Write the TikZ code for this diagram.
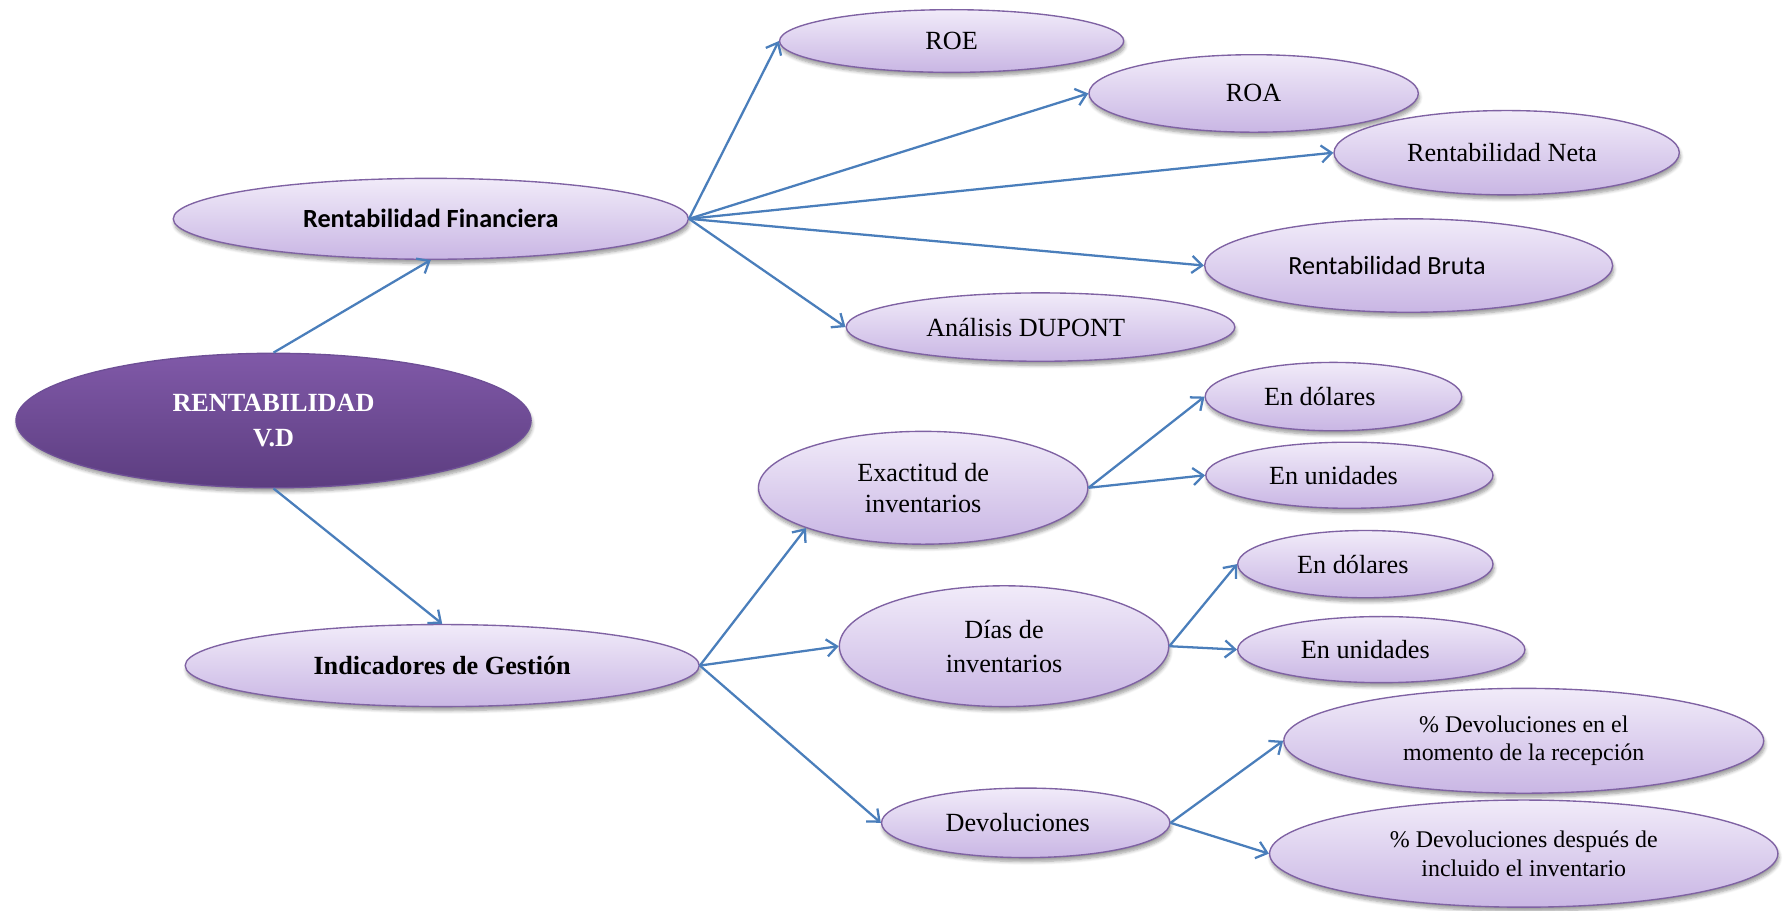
\documentclass[tikz,border=0pt]{standalone}
\usepackage{fontspec}
\setmainfont{Liberation Serif}
\newfontfamily\calibri{Carlito}
\usetikzlibrary{shapes.geometric,arrows.meta,shadows.blur}

\definecolor{lavtop}{HTML}{F1EBF9}
\definecolor{lavbot}{HTML}{C9B6E4}
\definecolor{lavedge}{HTML}{7F62A3}
\definecolor{roottop}{HTML}{8059A8}
\definecolor{rootbot}{HTML}{5C3D80}
\definecolor{rootedge}{HTML}{6E4F96}
\definecolor{linkblue}{HTML}{4A7EBB}

\newcommand\txtA{\fontsize{23}{27}\selectfont}
\newcommand\txtB{\fontsize{23}{30}\selectfont}
\newcommand\txtC{\fontsize{21}{25}\selectfont}

\tikzset{
  bub/.style={ellipse, draw=lavedge, line width=1.2pt,
    top color=lavtop, bottom color=lavbot, inner sep=0pt,
    align=center, font=\txtA, text=black,
    blur shadow={shadow xshift=1pt, shadow yshift=-3.5pt,
      shadow opacity=40, shadow blur steps=6, shadow blur radius=3pt}},
  rootbub/.style={bub, draw=rootedge, top color=roottop,
    bottom color=rootbot, text=white, font=\txtB\bfseries},
  link/.style={draw=linkblue, line width=2pt,
    -{Straight Barb[length=9pt,width=15pt]}}
}

\begin{document}
\begin{tikzpicture}[x=1pt,y=-1pt]
\useasboundingbox (0,0) rectangle (1568,799);

% root
\node[rootbub, minimum width=452pt, minimum height=118pt] (root) at (240,369)
  {RENTABILIDAD\\V.D};

% financial branch
\node[bub, minimum width=452pt, minimum height=71pt] (rf) at (378,192)
  {\calibri\bfseries Rentabilidad Financiera};
\node[bub, minimum width=302pt, minimum height=55pt] (roe) at (835,36) {ROE};
\node[bub, minimum width=289pt, minimum height=68pt] (roa) at (1100,82) {ROA};
\node[bub, minimum width=303pt, minimum height=74pt] (neta) at (1322,134)
  {Rentabilidad Neta\hspace*{8pt}};
\node[bub, minimum width=358pt, minimum height=82pt] (bruta) at (1236,233)
  {\calibri Rentabilidad Bruta\hspace*{38pt}};
\node[bub, minimum width=341pt, minimum height=60pt] (dupont) at (913,287)
  {Análisis DUPONT\hspace*{26pt}};

% management branch
\node[bub, minimum width=451pt, minimum height=72pt] (ig) at (388,584)
  {\bfseries Indicadores de Gestión};
\node[bub, minimum width=289pt, minimum height=99pt] (exact) at (810,428)
  {Exactitud de\\inventarios};
\node[bub, minimum width=225pt, minimum height=60pt] (dol1) at (1170,348)
  {En dólares\hspace*{24pt}};
\node[bub, minimum width=252pt, minimum height=58pt] (uni1) at (1184,417)
  {En unidades\hspace*{28pt}};
\node[bub, font=\txtB, minimum width=289pt, minimum height=106pt] (dias) at (881,567)
  {Días de\\inventarios};
\node[bub, minimum width=224pt, minimum height=59pt] (dol2) at (1198,495)
  {En dólares\hspace*{22pt}};
\node[bub, minimum width=252pt, minimum height=58pt] (uni2) at (1212,570)
  {En unidades\hspace*{28pt}};
\node[bub, minimum width=253pt, minimum height=61pt] (dev) at (900,722)
  {Devoluciones\hspace*{14pt}};
\node[bub, font=\txtC, minimum width=421pt, minimum height=92pt] (pct1) at (1337,650)
  {\% Devoluciones en el\\momento de la recepción};
\node[bub, font=\txtC, minimum width=446pt, minimum height=94pt] (pct2) at (1337,749)
  {\% Devoluciones después de\\incluido el inventario};

% connectors
\draw[link] (root.north) -- (rf.south);
\draw[link] (root.south) -- (ig.north);

\draw[link] (rf.east) -- (roe.west);
\draw[link] (rf.east) -- (roa.west);
\draw[link] (rf.east) -- (neta.west);
\draw[link] (rf.east) -- (bruta.west);
\draw[link] (rf.east) -- (dupont.west);

\draw[link] (ig.east) -- (exact.199);
\draw[link] (ig.east) -- (dias.west);
\draw[link] (ig.east) -- (dev.west);

\draw[link] (exact.east) -- (dol1.west);
\draw[link] (exact.east) -- (uni1.west);
\draw[link] (dias.east) -- (dol2.west);
\draw[link] (dias.east) -- (uni2.west);
\draw[link] (dev.east) -- (pct1.west);
\draw[link] (dev.east) -- (pct2.west);
\end{tikzpicture}
\end{document}
